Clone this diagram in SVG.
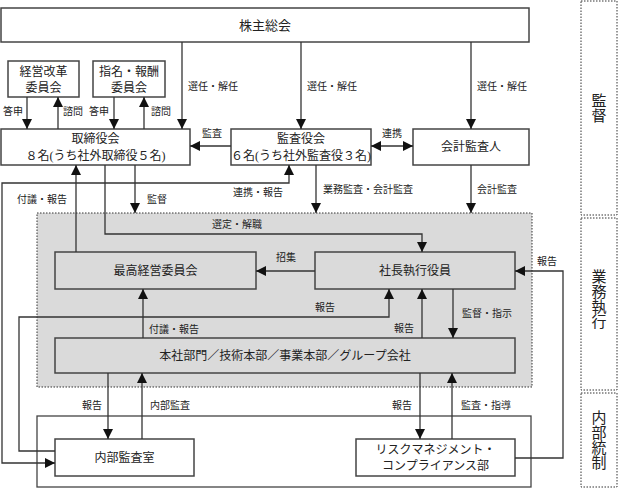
<svg xmlns="http://www.w3.org/2000/svg" width="619" height="488" viewBox="0 0 619 488">
<defs>
<marker id="ah" markerUnits="userSpaceOnUse" markerWidth="10" markerHeight="10" refX="10" refY="5" orient="auto">
<path d="M0,0 L10,5 L0,10 z" fill="#111"/>
</marker>
<marker id="as" markerUnits="userSpaceOnUse" markerWidth="10" markerHeight="10" refX="0" refY="5" orient="auto">
<path d="M10,0 L0,5 L10,10 z" fill="#111"/>
</marker>
<style>
text{font-family:"Liberation Serif","Noto Sans CJK JP",serif;fill:#222;}
.bx{fill:#fff;stroke:#444;stroke-width:1.5;}
.gb{fill:none;stroke:#444;stroke-width:1.5;}
.t{font-size:12px;text-anchor:middle;}
.l{font-size:10px;}
.v{font-size:15px;text-anchor:middle;}
.dot{fill:none;stroke:#333;stroke-width:1;stroke-dasharray:1.5,1.5;}
#connectors path,#connectors line{fill:none;stroke:#333;stroke-width:1.3;}
.a{marker-end:url(#ah);}
.s{marker-start:url(#as);}
</style>
</defs>
<rect width="619" height="488" fill="#fff"/>

<!-- background regions -->
<g id="exec-area">
<rect x="37" y="213" width="495" height="174" fill="#dadada" class="dot" style="fill:#dadada"/>
</g>
<g id="control-area">
<rect x="37" y="416" width="494" height="71" fill="#fff" stroke="#444" stroke-width="1.3"/>
</g>

<!-- right column -->
<g id="col-kantoku">
<rect x="581" y="1" width="36" height="214" class="dot"/>
<text class="v" x="599" y="106">監</text>
<text class="v" x="599" y="121">督</text>
</g>
<g id="col-gyomu">
<rect x="581" y="218" width="36" height="172" class="dot"/>
<text class="v" x="599" y="282">業</text>
<text class="v" x="599" y="297">務</text>
<text class="v" x="599" y="312">執</text>
<text class="v" x="599" y="327">行</text>
</g>
<g id="col-naibu">
<rect x="581" y="393" width="36" height="94" class="dot"/>
<text class="v" x="599" y="423">内</text>
<text class="v" x="599" y="438">部</text>
<text class="v" x="599" y="453">統</text>
<text class="v" x="599" y="468">制</text>
</g>

<!-- nodes -->
<g id="kabunushi">
<rect class="bx" x="1" y="8" width="528" height="34"/>
<text class="t" x="265" y="30" style="font-size:13px">株主総会</text>
</g>
<g id="keiei-kaikaku">
<rect class="bx" x="8" y="61" width="71" height="36"/>
<text class="t" x="43.5" y="76">経営改革</text>
<text class="t" x="43.5" y="92">委員会</text>
</g>
<g id="shimei-hoshu">
<rect class="bx" x="93" y="61" width="72" height="36"/>
<text class="t" x="129" y="76">指名・報酬</text>
<text class="t" x="129" y="92">委員会</text>
</g>
<g id="torishimariyakukai">
<rect class="bx" x="1" y="129" width="189" height="36"/>
<text class="t" x="95.5" y="143">取締役会</text>
<text class="t" x="95.5" y="160">８名(うち社外取締役５名)</text>
</g>
<g id="kansayakukai">
<rect class="bx" x="231" y="129" width="140" height="36"/>
<text class="t" x="301" y="143">監査役会</text>
<text class="t" x="301" y="160">６名(うち社外監査役３名)</text>
</g>
<g id="kaikei-kansanin">
<rect class="bx" x="413" y="129" width="116" height="36"/>
<text class="t" x="471" y="151">会計監査人</text>
</g>
<g id="saiko-keiei">
<rect class="gb" x="55" y="252" width="201" height="37"/>
<text class="t" x="155.5" y="275">最高経営委員会</text>
</g>
<g id="shacho">
<rect class="gb" x="315" y="252" width="200" height="37"/>
<text class="t" x="415" y="275">社長執行役員</text>
</g>
<g id="honsha">
<rect class="gb" x="55" y="338" width="460" height="35"/>
<text class="t" x="285" y="360">本社部門／技術本部／事業本部／グループ会社</text>
</g>
<g id="naibu-kansa">
<rect class="bx" x="55" y="439" width="139" height="37"/>
<text class="t" x="124.5" y="462">内部監査室</text>
</g>
<g id="risk">
<rect class="bx" x="356" y="439" width="159" height="37"/>
<text class="t" x="435.5" y="454">リスクマネジメント・</text>
<text class="t" x="435.5" y="470">コンプライアンス部</text>
</g>

<!-- connectors -->
<g id="connectors">
<line class="a" x1="27" y1="97" x2="27" y2="129"/>
<line class="a" x1="58" y1="129" x2="58" y2="97"/>
<line class="a" x1="114" y1="97" x2="114" y2="129"/>
<line class="a" x1="144" y1="129" x2="144" y2="97"/>
<line class="a" x1="182" y1="42" x2="182" y2="129"/>
<line class="a" x1="301" y1="42" x2="301" y2="129"/>
<line class="a" x1="471" y1="42" x2="471" y2="129"/>
<line class="a" x1="231" y1="146" x2="190" y2="146"/>
<line class="a s" x1="371" y1="146" x2="413" y2="146"/>
<line class="a" x1="316" y1="165" x2="316" y2="213"/>
<line class="a" x1="471" y1="165" x2="471" y2="213"/>
<line class="a" x1="135" y1="165" x2="135" y2="213"/>
<line class="a" x1="76" y1="252" x2="76" y2="165"/>
<path class="a" d="M105,165 V234 H422 V252"/>
<path class="a s" d="M289,165 V183 H2 V463 H55"/>
<path class="a" d="M55,451 H19 V317 H389 V289"/>
<line class="a" x1="315" y1="271" x2="256" y2="271"/>
<line class="a" x1="143" y1="338" x2="143" y2="289"/>
<line class="a" x1="422" y1="338" x2="422" y2="289"/>
<line class="a" x1="453" y1="289" x2="453" y2="338"/>
<path class="a" d="M515,458 H563 V271 H515"/>
<line class="a" x1="108" y1="373" x2="108" y2="439"/>
<line class="a" x1="142" y1="439" x2="142" y2="373"/>
<line class="a" x1="420" y1="373" x2="420" y2="439"/>
<line class="a" x1="452" y1="439" x2="452" y2="373"/>
</g>

<!-- labels -->
<g id="labels">
<text class="l" x="3" y="115">答申</text>
<text class="l" x="63" y="115">諮問</text>
<text class="l" x="89" y="115">答申</text>
<text class="l" x="151" y="115">諮問</text>
<text class="l" x="188" y="90">選任・解任</text>
<text class="l" x="307" y="90">選任・解任</text>
<text class="l" x="477" y="90">選任・解任</text>
<text class="l" x="202" y="137">監査</text>
<text class="l" x="382" y="137">連携</text>
<text class="l" x="17" y="203">付議・報告</text>
<text class="l" x="147" y="203">監督</text>
<text class="l" x="233" y="196">連携・報告</text>
<text class="l" x="323" y="193">業務監査・会計監査</text>
<text class="l" x="477" y="193">会計監査</text>
<text class="l" x="212" y="228">選定・解職</text>
<text class="l" x="276" y="261">招集</text>
<text class="l" x="315" y="311">報告</text>
<text class="l" x="394" y="332">報告</text>
<text class="l" x="462" y="317">監督・指示</text>
<text class="l" x="537" y="265">報告</text>
<text class="l" x="149" y="333">付議・報告</text>
<text class="l" x="82" y="409">報告</text>
<text class="l" x="150" y="409">内部監査</text>
<text class="l" x="392" y="409">報告</text>
<text class="l" x="461" y="409">監査・指導</text>
</g>
</svg>
